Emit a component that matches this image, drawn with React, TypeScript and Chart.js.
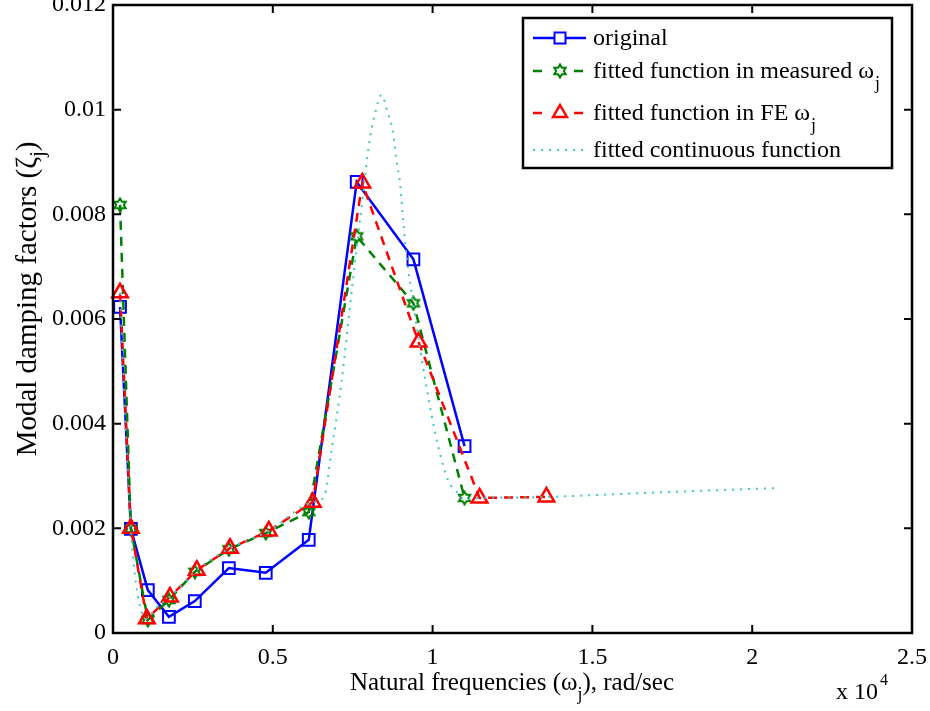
import React, { useEffect, useRef } from 'react';
import { Chart, registerables } from 'chart.js';

Chart.register(...registerables);

// ---------- data (x in units of 10^4 rad/sec) ----------
const xTickValues = [0, 0.5, 1, 1.5, 2, 2.5];
const xTickLabels = ['0', '0.5', '1', '1.5', '2', '2.5'];
const yTickValues = [0, 0.002, 0.004, 0.006, 0.008, 0.01, 0.012];
const yTickLabels = ['0', '0.002', '0.004', '0.006', '0.008', '0.01', '0.012'];

const measuredFreq = [0.022, 0.056, 0.109, 0.175, 0.256, 0.3625, 0.478, 0.6125, 0.7625, 0.94, 1.1];
const originalDamping = [0.00623, 0.00199, 0.00082, 0.00031, 0.00061, 0.00124, 0.00115, 0.00178, 0.00862, 0.00714, 0.00357];
const fitMeasuredDamping = [0.00818, 0.00199, 0.00025, 0.00063, 0.00117, 0.0016, 0.00191, 0.00231, 0.00758, 0.0063, 0.00258];

const feFreq = [0.022, 0.056, 0.106, 0.178, 0.262, 0.366, 0.4875, 0.625, 0.78, 0.956, 1.147, 1.356];
const fitFeDamping = [0.0065, 0.002, 0.00027, 0.00069, 0.0012, 0.00162, 0.00195, 0.0025, 0.0086, 0.00556, 0.00258, 0.0026];

const contFreq = [0.022, 0.035, 0.045, 0.056, 0.065, 0.078, 0.09, 0.106, 0.13, 0.178, 0.262, 0.366, 0.4875, 0.625, 0.66, 0.684, 0.715, 0.75, 0.7875, 0.8, 0.819, 0.84, 0.86, 0.875, 0.8875, 0.897, 0.915, 0.944, 0.978, 1.016, 1.05, 1.075, 1.1, 1.147, 1.25, 1.356, 1.6, 1.85, 2.084];
const contDamping = [0.0065, 0.0046, 0.0032, 0.002, 0.0013, 0.0007, 0.0004, 0.00027, 0.00045, 0.00069, 0.0012, 0.00162, 0.00195, 0.0025, 0.0026, 0.0035, 0.0048, 0.0067, 0.00865, 0.0093, 0.0099, 0.01028, 0.00993, 0.0096, 0.009, 0.00865, 0.0074, 0.0061, 0.0048, 0.0036, 0.0029, 0.0027, 0.00255, 0.00258, 0.00259, 0.0026, 0.00266, 0.00272, 0.00277];

const legendLabels = ['original', 'fitted function in measured ω', 'fitted function in FE ω', 'fitted continuous function'];
const legendSubs = ['', 'j', 'j', ''];

const BLUE = '#0000ff';
const GREEN = '#008000';
const RED = '#ff0000';
const CYAN = '#3cc8c8';
const FONT = '"Liberation Serif", "Times New Roman", serif';

function makeHexagram(color: string, size: number): HTMLCanvasElement {
  const c = document.createElement('canvas');
  c.width = size;
  c.height = size;
  const ctx = c.getContext('2d')!;
  const cx = size / 2;
  const cy = size / 2;
  const R = size / 2 - 1.5;
  const r = R / Math.sqrt(3);
  ctx.strokeStyle = color;
  ctx.lineWidth = 2;
  ctx.beginPath();
  for (let k = 0; k < 12; k++) {
    const ang = -Math.PI / 2 + (k * Math.PI) / 6;
    const rad = k % 2 === 0 ? R : r;
    const px = cx + rad * Math.cos(ang);
    const py = cy + rad * Math.sin(ang);
    if (k === 0) ctx.moveTo(px, py);
    else ctx.lineTo(px, py);
  }
  ctx.closePath();
  ctx.stroke();
  return c;
}

function toXY(xs: number[], ys: number[]) {
  return xs.map((v, i) => ({ x: v, y: ys[i] }));
}

export default function App() {
  const ref = useRef<HTMLCanvasElement | null>(null);

  useEffect(() => {
    document.body.style.margin = '0';
    const canvas = ref.current;
    if (!canvas) return;
    const hexagram = makeHexagram(GREEN, 16);

    const framePlugin = {
      id: 'frame',
      afterDraw(chart: any) {
        const { ctx, chartArea: a } = chart;
        const xs = chart.scales.x;
        const ys = chart.scales.y;
        ctx.save();
        // box
        ctx.strokeStyle = '#000';
        ctx.lineWidth = 2.5;
        ctx.strokeRect(a.left, a.top, a.right - a.left, a.bottom - a.top);
        // inward ticks on all sides
        const tl = 8;
        ctx.lineWidth = 2;
        ctx.beginPath();
        xTickValues.forEach((v) => {
          const px = xs.getPixelForValue(v);
          ctx.moveTo(px, a.bottom);
          ctx.lineTo(px, a.bottom - tl);
          ctx.moveTo(px, a.top);
          ctx.lineTo(px, a.top + tl);
        });
        yTickValues.forEach((v) => {
          const py = ys.getPixelForValue(v);
          ctx.moveTo(a.left, py);
          ctx.lineTo(a.left + tl, py);
          ctx.moveTo(a.right, py);
          ctx.lineTo(a.right - tl, py);
        });
        ctx.stroke();

        ctx.fillStyle = '#000';
        // x title
        ctx.textBaseline = 'alphabetic';
        ctx.textAlign = 'left';
        const p1 = 'Natural frequencies (ω';
        const p2 = '), rad/sec';
        ctx.font = `25px ${FONT}`;
        const w1 = ctx.measureText(p1).width;
        const w2 = ctx.measureText(p2).width;
        ctx.font = `18px ${FONT}`;
        const ws = ctx.measureText('j').width;
        const total = w1 + ws + w2;
        const sx = 512 - total / 2;
        const by = 690;
        ctx.font = `25px ${FONT}`;
        ctx.fillText(p1, sx, by);
        ctx.font = `18px ${FONT}`;
        ctx.fillText('j', sx + w1, by + 10);
        ctx.font = `25px ${FONT}`;
        ctx.fillText(p2, sx + w1 + ws, by);

        // x 10^4
        ctx.font = `24px ${FONT}`;
        ctx.fillText('x 10', 836, 699);
        const wx = ctx.measureText('x 10').width;
        ctx.font = `16px ${FONT}`;
        ctx.fillText('4', 836 + wx + 2, 685);

        // y title (rotated)
        ctx.save();
        ctx.translate(36, 299);
        ctx.rotate(-Math.PI / 2);
        const q1 = 'Modal damping factors (ζ';
        const q2 = ')';
        ctx.font = `29px ${FONT}`;
        const v1 = ctx.measureText(q1).width;
        const v2 = ctx.measureText(q2).width;
        ctx.font = `20px ${FONT}`;
        const vs = ctx.measureText('j').width;
        const vt = v1 + vs + v2;
        const vx = -vt / 2;
        ctx.font = `29px ${FONT}`;
        ctx.fillText(q1, vx, 0);
        ctx.font = `20px ${FONT}`;
        ctx.fillText('j', vx + v1, 8);
        ctx.font = `29px ${FONT}`;
        ctx.fillText(q2, vx + v1 + vs, 0);
        ctx.restore();

        // legend
        const L = { left: 523, top: 18, right: 892, bottom: 168 };
        ctx.fillStyle = '#fff';
        ctx.fillRect(L.left, L.top, L.right - L.left, L.bottom - L.top);
        ctx.strokeStyle = '#000';
        ctx.lineWidth = 2.5;
        ctx.strokeRect(L.left, L.top, L.right - L.left, L.bottom - L.top);
        const rows = [38, 71, 113, 150];
        const styles = [
          { color: BLUE, dash: [] as number[], width: 2.5 },
          { color: GREEN, dash: [9, 7], width: 2.5 },
          { color: RED, dash: [9, 7], width: 2.5 },
          { color: CYAN, dash: [2, 6], width: 2 },
        ];
        rows.forEach((ry, i) => {
          const st = styles[i];
          ctx.save();
          ctx.strokeStyle = st.color;
          ctx.lineWidth = st.width;
          ctx.setLineDash(st.dash);
          ctx.beginPath();
          if (i === 1 || i === 2) {
            ctx.moveTo(533, ry);
            ctx.lineTo(545, ry);
            ctx.moveTo(574, ry);
            ctx.lineTo(586, ry);
          } else {
            ctx.moveTo(533, ry);
            ctx.lineTo(586, ry);
          }
          ctx.stroke();
          ctx.setLineDash([]);
          ctx.lineWidth = 2;
          const mx = 560;
          if (i === 0) {
            ctx.fillStyle = '#fff';
            ctx.fillRect(mx - 5.5, ry - 5.5, 11, 11);
            ctx.strokeRect(mx - 5.5, ry - 5.5, 11, 11);
          } else if (i === 1) {
            ctx.drawImage(hexagram, mx - 8, ry - 8);
          } else if (i === 2) {
            const r = 8;
            ctx.lineWidth = 2.5;
            ctx.beginPath();
            ctx.moveTo(mx, ry - r);
            ctx.lineTo(mx + r * 0.866, ry + r * 0.5);
            ctx.lineTo(mx - r * 0.866, ry + r * 0.5);
            ctx.closePath();
            ctx.stroke();
          }
          ctx.restore();
          ctx.fillStyle = '#000';
          ctx.font = `24px ${FONT}`;
          ctx.textBaseline = 'middle';
          ctx.fillText(legendLabels[i], 593, ry + 1);
          if (legendSubs[i]) {
            const lw = ctx.measureText(legendLabels[i]).width;
            ctx.font = `18px ${FONT}`;
            ctx.fillText(legendSubs[i], 593 + lw + 1, ry + 13);
          }
        });
        ctx.restore();
      },
    };

    const chart = new Chart(canvas, {
      type: 'line',
      data: {
        datasets: [
          {
            label: 'original',
            data: toXY(measuredFreq, originalDamping),
            borderColor: BLUE,
            borderWidth: 2.5,
            pointStyle: 'rect',
            pointRadius: 8.3,
            pointBorderWidth: 2,
            pointBorderColor: BLUE,
            pointBackgroundColor: 'rgba(255,255,255,0)',
            fill: false,
            tension: 0,
            clip: false,
            order: 4,
          },
          {
            label: 'fitted function in measured ωj',
            data: toXY(measuredFreq, fitMeasuredDamping),
            borderColor: GREEN,
            borderWidth: 2.5,
            borderDash: [9, 7],
            pointStyle: hexagram,
            pointRadius: 8,
            fill: false,
            tension: 0,
            clip: false,
            order: 3,
          },
          {
            label: 'fitted function in FE ωj',
            data: toXY(feFreq, fitFeDamping),
            borderColor: RED,
            borderWidth: 2.5,
            borderDash: [9, 7],
            pointStyle: 'triangle',
            pointRadius: 9,
            pointBorderWidth: 2.5,
            pointBorderColor: RED,
            pointBackgroundColor: 'rgba(255,255,255,0)',
            fill: false,
            tension: 0,
            clip: false,
            order: 2,
          },
          {
            label: 'fitted continuous function',
            data: toXY(contFreq, contDamping),
            borderColor: CYAN,
            borderWidth: 2,
            borderDash: [2, 6],
            pointRadius: 0,
            fill: false,
            cubicInterpolationMode: 'monotone',
            clip: false,
            order: 1,
          },
        ],
      },
      options: {
        animation: false,
        responsive: false,
        devicePixelRatio: 1,
        layout: { autoPadding: false, padding: { left: 0, right: 18, top: 5, bottom: 0 } },
        plugins: {
          legend: { display: false },
          tooltip: { enabled: false },
          title: { display: false },
        },
        scales: {
          x: {
            type: 'linear',
            min: 0,
            max: 2.5,
            afterBuildTicks: (scale: any) => {
              scale.ticks = xTickValues.map((v) => ({ value: v }));
            },
            ticks: {
              color: '#000',
              font: { family: FONT, size: 24 },
              padding: 10,
              maxRotation: 0,
              autoSkip: false,
              callback: (v: any) => {
                const i = xTickValues.findIndex((t) => Math.abs(t - Number(v)) < 1e-9);
                return i >= 0 ? xTickLabels[i] : '';
              },
            },
            grid: { display: false, drawTicks: false },
            border: { display: false },
            afterFit: (scale: any) => {
              scale.height = 78;
              scale.paddingLeft = 0;
              scale.paddingRight = 0;
            },
          },
          y: {
            type: 'linear',
            min: 0,
            max: 0.012,
            afterBuildTicks: (scale: any) => {
              scale.ticks = yTickValues.map((v) => ({ value: v }));
            },
            ticks: {
              color: '#000',
              font: { family: FONT, size: 24 },
              padding: 7,
              autoSkip: false,
              callback: (v: any) => {
                const i = yTickValues.findIndex((t) => Math.abs(t - Number(v)) < 1e-12);
                return i >= 0 ? yTickLabels[i] : '';
              },
            },
            grid: { display: false, drawTicks: false },
            border: { display: false },
            afterFit: (scale: any) => {
              scale.width = 113;
              scale.paddingTop = 0;
              scale.paddingBottom = 0;
            },
          },
        },
      },
      plugins: [framePlugin],
    } as any);

    return () => {
      chart.destroy();
    };
  }, []);

  return (
    <div style={{ width: 930, height: 711, position: 'relative', background: '#fff' }}>
      <canvas ref={ref} width={930} height={711} style={{ display: 'block', width: 930, height: 711 }} />
    </div>
  );
}
